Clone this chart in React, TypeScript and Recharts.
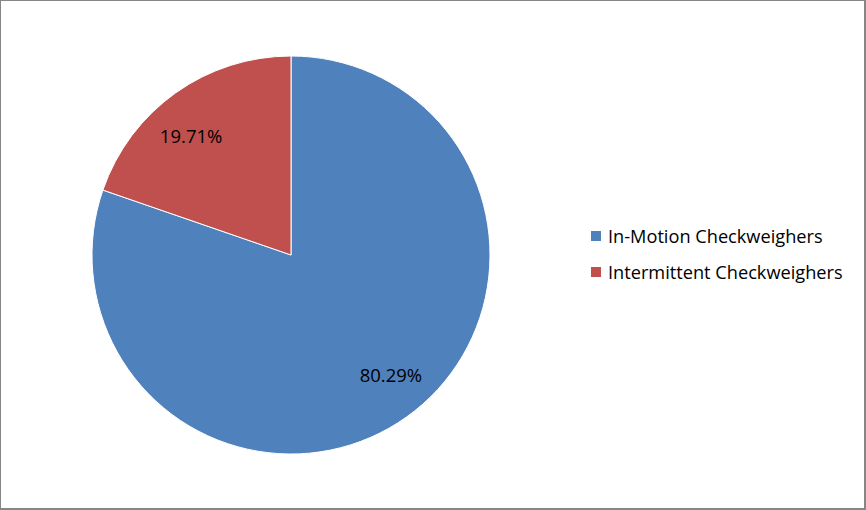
import { PieChart, Pie, Cell } from 'recharts';

const categories = ['In-Motion Checkweighers', 'Intermittent Checkweighers'];
const shares = [80.29, 19.71];
const colors = ['#4F81BD', '#C0504D'];

const data = categories.map((name, i) => ({ name, value: shares[i] }));

const FONT = '"Open Sans", sans-serif';
const RADIAN = Math.PI / 180;

// labels sit on a flattened ring inside the slices, like the office chart
const renderLabel = (props: any) => {
    const { cx, cy, midAngle, outerRadius, index } = props;
    const x = cx + outerRadius * 0.865 * Math.cos(-midAngle * RADIAN);
    const y = cy + outerRadius * 0.74 * Math.sin(-midAngle * RADIAN);
    return (
        <text x={x} y={y} textAnchor="middle" dominantBaseline="central"
            fill="#000" fontSize={18.5} fontFamily={FONT}>
            {shares[index].toFixed(2)}%
        </text>
    );
};

export default function App() {
    return (
        <div style={{ position: 'absolute', left: 0, top: 0, width: 866, height: 510, background: '#fff' }}>
            <PieChart width={866} height={510} margin={{ top: 0, right: 0, bottom: 0, left: 0 }}>
                <Pie
                    data={data}
                    dataKey="value"
                    nameKey="name"
                    cx={291}
                    cy={255}
                    outerRadius={199}
                    startAngle={90}
                    endAngle={-270}
                    stroke="#fff"
                    strokeWidth={1}
                    label={renderLabel}
                    labelLine={false}
                    isAnimationActive={false}
                >
                    {data.map((d, i) => (
                        <Cell key={d.name} fill={colors[i]} />
                    ))}
                </Pie>
            </PieChart>
            {/* legend */}
            <div style={{ position: 'absolute', left: 591, top: 218, fontFamily: FONT, fontSize: 18.2, color: '#000' }}>
                {categories.map((c, i) => (
                    <div key={c} style={{ display: 'flex', alignItems: 'center', height: 36 }}>
                        <span style={{ width: 10, height: 10, background: colors[i], marginRight: 7, flexShrink: 0 }} />
                        <span>{c}</span>
                    </div>
                ))}
            </div>
            <div style={{
                position: 'absolute', inset: 0, boxSizing: 'border-box', pointerEvents: 'none',
                borderStyle: 'solid', borderColor: '#868686',
                borderWidth: '1px 2px 2px 1px'
            }} />
        </div>
    );
}
